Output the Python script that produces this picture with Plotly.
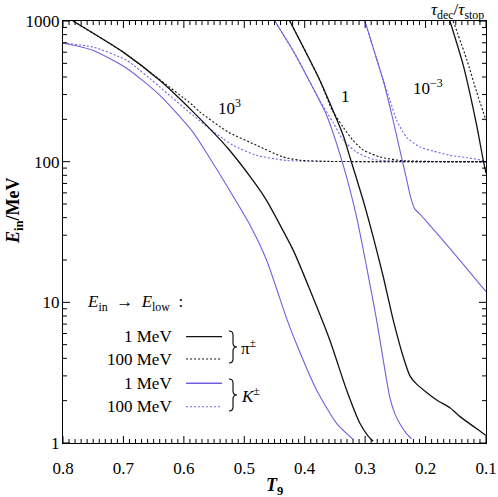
import plotly.graph_objects as go

# ---- data (T9, E_in / MeV) ----
# pi, 1 MeV, tau = 1e3
pi1_a_T = [0.7834, 0.701, 0.640, 0.5847, 0.5268, 0.480, 0.4632, 0.4191, 0.3911, 0.3585, 0.3307, 0.3087, 0.2950, 0.2867]
pi1_a_E = [1000, 603, 379, 226, 124, 68, 53, 23.5, 12.2, 5.4, 2.38, 1.38, 1.12, 1.03]
# pi, 100 MeV, tau = 1e3
pi100_a_T = [0.7834, 0.701, 0.645, 0.5853, 0.5737, 0.5273, 0.480, 0.436, 0.408, 0.36, 0.25, 0.1]
pi100_a_E = [1000, 603, 398, 252, 226, 163, 131, 108, 102.4, 100.4, 100.1, 100]
# K, 1 MeV, tau = 1e3
k1_a_T = [0.8, 0.7507, 0.6946, 0.640, 0.5853, 0.5605, 0.5294, 0.4906, 0.4632, 0.4290, 0.4163, 0.3804, 0.3473, 0.3198]
k1_a_E = [698, 620, 461, 297, 163, 112, 68, 35.5, 20, 7.48, 5.4, 2.38, 1.38, 1.06]
# K, 100 MeV, tau = 1e3
k100_a_T = [0.8, 0.7503, 0.695, 0.640, 0.5853, 0.5355, 0.519, 0.480, 0.430, 0.36, 0.25, 0.1]
k100_a_E = [698, 653, 526, 340, 214, 146, 131, 111, 102, 100.3, 100.1, 100]

# pi, 1 MeV, tau = 1
pi1_b_T = [0.4247, 0.375, 0.3364, 0.3253, 0.3032, 0.2867, 0.270, 0.2536, 0.237, 0.2259, 0.2148, 0.1817, 0.1597, 0.1431, 0.1045, 0.1]
pi1_b_E = [1000, 379, 154, 108, 53, 29.2, 15.2, 7.5, 4.1, 3.0, 2.62, 2.02, 1.78, 1.54, 1.17, 1.13]
# pi, 100 MeV, tau = 1
pi100_b_T = [0.4247, 0.375, 0.3545, 0.3364, 0.3203, 0.3032, 0.2756, 0.2425, 0.19, 0.1]
pi100_b_E = [1000, 379, 232, 176, 142, 121, 108, 102, 100.3, 100]
# K, 1 MeV, tau = 1
k1_b_T = [0.4495, 0.4197, 0.3915, 0.3638, 0.3363, 0.3142, 0.2976, 0.2810, 0.2673, 0.2590, 0.2507, 0.2425, 0.2325, 0.2231]
k1_b_E = [1000, 619, 369, 214, 94.4, 40.5, 17.9, 7.48, 3.30, 2.09, 1.61, 1.37, 1.18, 1.07]
# K, 100 MeV, tau = 1
k100_b_T = [0.4495, 0.4197, 0.3915, 0.3745, 0.3529, 0.3363, 0.3142, 0.2872, 0.2425, 0.1]
k100_b_E = [1000, 619, 369, 269, 190, 142, 117, 104, 100.5, 100]

# K, 1 MeV, tau = 1e-3
k1_c_T = [0.3004, 0.2855, 0.2701, 0.2557, 0.2425, 0.2326, 0.2243, 0.2177, 0.2094, 0.1762, 0.1376, 0.1]
k1_c_E = [1000, 620, 379, 214, 121, 79, 55, 46, 42.4, 29.2, 18.6, 11.9]
# K, 100 MeV, tau = 1e-3
k100_c_T = [0.3004, 0.2855, 0.2701, 0.2588, 0.2479, 0.2314, 0.2093, 0.1873, 0.1597, 0.132, 0.1]
k100_c_E = [1000, 620, 379, 273, 197, 149, 127, 119, 111, 107, 101]
# pi, 1 MeV, tau = 1e-3
pi1_c_T = [0.1597, 0.1376, 0.1155, 0.1045, 0.1]
pi1_c_E = [1000, 484, 182, 102, 82.8]
# pi, 100 MeV, tau = 1e-3
pi100_c_T = [0.1543, 0.1315, 0.1155, 0.1]
pi100_c_E = [1000, 526, 313, 197]

x_tickvals = [0.8, 0.7, 0.6, 0.5, 0.4, 0.3, 0.2, 0.1]
x_ticktext = ["0.8", "0.7", "0.6", "0.5", "0.4", "0.3", "0.2", "0.1"]
y_tickvals = [1, 10, 100, 1000]
y_ticktext = ["1", "10", "100", "1000"]
x_minor = [round(0.1 + 0.01 * i, 2) for i in range(71) if i % 10]
y_minor = [m * 10 ** d for d in range(3) for m in range(2, 10)]

legend_labels = ["1 MeV", "100 MeV", "1 MeV", "100 MeV"]

BLACK = "#111111"
BLUE = "#7060e0"
FONT = "Liberation Serif"
DOT = "2px,2px"

X_RANGE = [0.8, 0.1]
Y_RANGE = [0, 3]          # log10
PLOT_W, PLOT_H = 423, 422  # px of the plot area

fig = go.Figure()

def add(T, E, color, dash, width):
    fig.add_trace(go.Scatter(
        x=T, y=E, mode="lines",
        line=dict(color=color, dash=dash, width=width, shape="spline", smoothing=0.6),
        showlegend=False, hoverinfo="skip"))

add(k100_a_T, k100_a_E, BLUE, DOT, 1.1)
add(k100_b_T, k100_b_E, BLUE, DOT, 1.1)
add(k100_c_T, k100_c_E, BLUE, DOT, 1.1)
add(pi100_a_T, pi100_a_E, BLACK, DOT, 1.1)
add(pi100_b_T, pi100_b_E, BLACK, DOT, 1.1)
add(pi100_c_T, pi100_c_E, BLACK, DOT, 1.1)
add(k1_a_T, k1_a_E, BLUE, "solid", 1.1)
add(k1_b_T, k1_b_E, BLUE, "solid", 1.1)
add(k1_c_T, k1_c_E, BLUE, "solid", 1.1)
add(pi1_a_T, pi1_a_E, BLACK, "solid", 1.3)
add(pi1_b_T, pi1_b_E, BLACK, "solid", 1.3)
add(pi1_c_T, pi1_c_E, BLACK, "solid", 1.3)

# ---- tick marks on all four sides (inside), drawn through the axes ----
x_per_px = (X_RANGE[0] - X_RANGE[1]) / PLOT_W
dec_per_px = (Y_RANGE[1] - Y_RANGE[0]) / PLOT_H
tx, ty = [], []
for vals, ln in [(x_tickvals, 7), (x_minor, 4)]:
    f = 10 ** (ln * dec_per_px)
    for v in vals:
        tx += [v, v, None, v, v, None]
        ty += [10 ** Y_RANGE[0], 10 ** Y_RANGE[0] * f, None, 10 ** Y_RANGE[1], 10 ** Y_RANGE[1] / f, None]
for vals, ln in [(y_tickvals, 7), (y_minor, 4)]:
    d = ln * x_per_px
    for v in vals:
        tx += [X_RANGE[0], X_RANGE[0] - d, None, X_RANGE[1], X_RANGE[1] + d, None]
        ty += [v, v, None, v, v, None]
fig.add_trace(go.Scatter(x=tx, y=ty, mode="lines", line=dict(color="black", width=1),
                         connectgaps=False, showlegend=False, hoverinfo="skip"))

axis_common = dict(
    ticks="", showline=True, linecolor="black", linewidth=1.2, mirror=True,
    showgrid=False, zeroline=False, automargin=False,
    tickfont=dict(family=FONT, size=17, color="black"),
)

fig.update_layout(
    width=498, height=497,
    margin=dict(l=63, r=12, t=21, b=54, autoexpand=False),
    paper_bgcolor="white", plot_bgcolor="white",
    font=dict(family=FONT, size=17, color="black"),
    xaxis=dict(
        range=X_RANGE, tickmode="array", tickvals=x_tickvals, ticktext=x_ticktext,
        ticklabelstandoff=9, **axis_common,
    ),
    yaxis=dict(
        type="log", range=Y_RANGE, tickmode="array", tickvals=y_tickvals, ticktext=y_ticktext,
        ticklabelstandoff=-1, **axis_common,
    ),
)

ann = []
# axis titles
ann.append(dict(x=0.5, y=-0.104, xref="paper", yref="paper", xanchor="center", yanchor="middle",
                text="<b><i>T</i><sub>9</sub></b>", showarrow=False, font=dict(size=18)))
ann.append(dict(x=-0.113, y=0.55, xref="paper", yref="paper", xanchor="center", yanchor="middle",
                text="<b><i>E</i><sub>in</sub>/MeV</b>", textangle=-90, showarrow=False,
                font=dict(size=18)))
# curve labels (data coords; y in log10 units)
ann.append(dict(x=0.524, y=2.39, xref="x", yref="y", text="10<sup>3</sup>", showarrow=False,
                font=dict(size=17)))
ann.append(dict(x=0.332, y=2.46, xref="x", yref="y", text="1", showarrow=False,
                font=dict(size=17)))
ann.append(dict(x=0.196, y=2.53, xref="x", yref="y", text="10<sup>−3</sup>", showarrow=False,
                font=dict(size=17)))
# top right label
ann.append(dict(x=1.0, y=1.0, xref="paper", yref="paper", xanchor="right", yanchor="bottom",
                text="<i>τ</i><sub>dec</sub>/<i>τ</i><sub>stop</sub>", showarrow=False,
                font=dict(size=17), yshift=-3))
# legend
ann.append(dict(x=0.052, y=0.332, xref="paper", yref="paper", xanchor="left", yanchor="middle",
                text="<i>E</i><sub>in</sub>\u2002→\u2002<i>E</i><sub>low</sub>\u2002:", showarrow=False,
                font=dict(size=17)))
rows_y = [0.252, 0.199, 0.1415, 0.086]
row_style = [(BLACK, "solid", 1.3), (BLACK, DOT, 1.1), (BLUE, "solid", 1.5), (BLUE, DOT, 1.1)]
shapes = []
for lab, yy, (c, d, w) in zip(legend_labels, rows_y, row_style):
    ann.append(dict(x=0.262, y=yy, xref="paper", yref="paper", xanchor="right", yanchor="middle",
                    text=lab, showarrow=False, font=dict(size=17)))
    shapes.append(dict(type="line", xref="paper", yref="paper", x0=0.291, x1=0.376, y0=yy, y1=yy,
                       line=dict(color=c, dash=d, width=w)))

def px(x):
    return (x - 63) / 423.0

def py(y):
    return (443 - y) / 422.0

def brace(yc, half=16):
    x0, x1, x2 = 229, 233, 237
    yt, yb = yc - half, yc + half
    pts = [
        f"M {px(x0)},{py(yt)}",
        f"Q {px(x1)},{py(yt)} {px(x1)},{py(yt + 4)}",
        f"L {px(x1)},{py(yc - 4)}",
        f"Q {px(x1)},{py(yc)} {px(x2)},{py(yc)}",
        f"Q {px(x1)},{py(yc)} {px(x1)},{py(yc + 4)}",
        f"L {px(x1)},{py(yb - 4)}",
        f"Q {px(x1)},{py(yb)} {px(x0)},{py(yb)}",
    ]
    return dict(type="path", xref="paper", yref="paper", path=" ".join(pts),
                line=dict(color="black", width=1.1))

for yc, lab in [(347, "π<sup>±</sup>"), (395, "<i>K</i><sup>±</sup>")]:
    shapes.append(brace(yc))
    ann.append(dict(x=px(239), y=py(yc), xref="paper", yref="paper", xanchor="left", yanchor="middle",
                    text=lab, showarrow=False, font=dict(size=17)))

fig.update_layout(annotations=ann, shapes=shapes)
fig.write_html("out.html", config={"displayModeBar": False},
               post_script="document.body.style.margin='0px';")
